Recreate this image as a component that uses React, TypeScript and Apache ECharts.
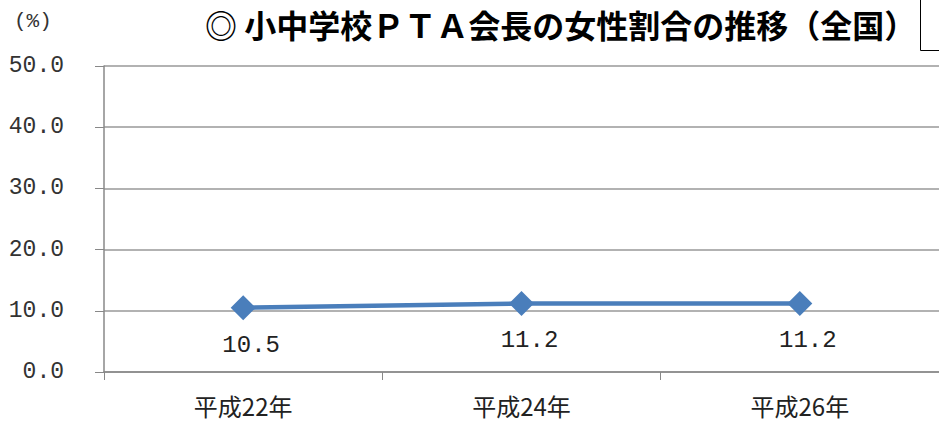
import React, { useEffect, useRef } from "react";
import * as echarts from "echarts";

const TITLE = "◎ 小中学校ＰＴＡ会長の女性割合の推移（全国）";
const UNIT_LABEL = "(%)";
const categories = ["平成22年", "平成24年", "平成26年"];
const femaleRatio = [10.5, 11.2, 11.2];
const yMin = 0;
const yMax = 50;
const yInterval = 10;

export default function App() {
  const ref = useRef<HTMLDivElement>(null);
  useEffect(() => {
    if (!ref.current) return;
    const chart = echarts.init(ref.current, null, { renderer: "svg" });
    const font = "'Noto Sans CJK JP', sans-serif";
    const mono = "'Liberation Mono', 'DejaVu Sans Mono', monospace";
    chart.setOption({
      animation: false,
      backgroundColor: "#ffffff",
      grid: { left: 104, top: 66, width: 843, height: 306, containLabel: false },
      graphic: [
        {
          type: "text",
          left: 205,
          top: 8,
          style: { text: TITLE, font: `bold 32px ${font}`, fill: "#000" },
        },
        {
          type: "text",
          left: 14,
          top: 11,
          style: { text: UNIT_LABEL, font: `21px ${mono}`, fill: "#333" },
        },
        {
          type: "rect",
          shape: { x: 920.5, y: -1, width: 40, height: 51.5 },
          style: { fill: "none", stroke: "#000", lineWidth: 1 },
        },
      ],
      xAxis: {
        type: "category",
        data: categories,
        boundaryGap: true,
        axisLine: { show: true, lineStyle: { color: "#888", width: 1.5 } },
        axisTick: { show: true, length: 8, lineStyle: { color: "#888" } },
        axisLabel: {
          fontSize: 24,
          lineHeight: 24,
          color: "#222",
          margin: 21,
          fontFamily: font,
        },
        splitLine: { show: false },
      },
      yAxis: {
        type: "value",
        min: yMin,
        max: yMax,
        interval: yInterval,
        axisLine: { show: true, lineStyle: { color: "#888", width: 1.5 } },
        axisTick: { show: true, length: 9, lineStyle: { color: "#888" } },
        axisLabel: {
          fontSize: 23,
          color: "#333",
          margin: 40,
          fontFamily: mono,
          formatter: (v: number) => v.toFixed(1),
        },
        splitLine: { show: true, lineStyle: { color: "#999", width: 1.5 } },
      },
      series: [
        {
          type: "line",
          data: femaleRatio,
          symbol: "diamond",
          symbolSize: 25,
          itemStyle: { color: "#4a7ebb" },
          lineStyle: { color: "#4a7ebb", width: 4.5 },
          label: {
            show: true,
            position: "bottom",
            distance: 13,
            offset: [8, 0],
            fontSize: 24,
            color: "#222",
            fontFamily: mono,
            formatter: (p: any) => Number(p.value).toFixed(1),
          },
        },
      ],
    });
    return () => chart.dispose();
  }, []);
  return (
    <div
      ref={ref}
      style={{ position: "absolute", left: 0, top: 0, width: 939, height: 422 }}
    />
  );
}
